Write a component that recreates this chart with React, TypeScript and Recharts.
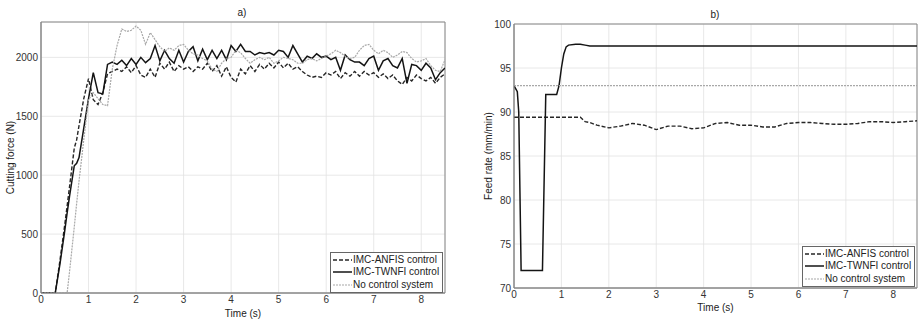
import React from 'react';
import { LineChart, Line, XAxis, YAxis, CartesianGrid, ReferenceArea, Legend } from 'recharts';

// ---------- Data: chart a) cutting force ----------
const forceTime = [
  0, 0.1, 0.2, 0.3, 0.4, 0.5, 0.55, 0.6, 0.7, 0.75, 0.8, 0.9,
  1.0, 1.1, 1.2, 1.3, 1.4, 1.5, 1.6, 1.7, 1.8, 1.9,
  2.0, 2.1, 2.2, 2.3, 2.4, 2.5, 2.6, 2.7, 2.8, 2.9,
  3.0, 3.1, 3.2, 3.3, 3.4, 3.5, 3.6, 3.7, 3.8, 3.9,
  4.0, 4.1, 4.2, 4.3, 4.4, 4.5, 4.6, 4.7, 4.8, 4.9,
  5.0, 5.1, 5.2, 5.3, 5.4, 5.5, 5.6, 5.7, 5.8, 5.9,
  6.0, 6.1, 6.2, 6.3, 6.4, 6.5, 6.6, 6.7, 6.8, 6.9,
  7.0, 7.1, 7.2, 7.3, 7.4, 7.5, 7.6, 7.7, 7.8, 7.9,
  8.0, 8.1, 8.2, 8.3, 8.4, 8.5,
];
const anfisForce = [
  0, 0, 0, 0, 280, 580, 740, 900, 1230, 1300, 1420, 1650,
  1820, 1640, 1600, 1700, 1860, 1880, 1900, 1880, 1920, 1870,
  1930, 1850, 1830, 1900, 1830, 1950, 1900, 1960, 1880, 1930,
  1900, 1920, 1880, 1920, 1900, 1950, 1880, 1930, 1840, 1920,
  1830, 1790, 1900, 1860, 1930, 1880, 1940, 1900, 1950, 1910,
  1960, 1910, 1950, 1900, 1920, 1880, 1850, 1830, 1840, 1830,
  1870, 1850, 1880, 1820, 1870, 1840, 1880, 1840, 1880, 1850,
  1870, 1830, 1860, 1820, 1850, 1800, 1770, 1830, 1800, 1850,
  1820, 1800, 1830, 1780, 1830, 1860,
];
const twnfiForce = [
  0, 0, 0, 0, 250, 530, 680, 820, 1080, 1100, 1150, 1400,
  1650, 1870, 1700, 1690, 1940, 1960, 1940, 1975, 1930, 1990,
  1940, 2000, 1955, 1990, 2100, 1970, 2060, 1990, 1950, 2060,
  1960, 2050, 2090, 1970, 2070, 1980, 2060, 1990, 2060, 1980,
  2100, 2050, 2110, 2050, 2050, 2020, 2040, 2030, 2040, 2020,
  2060, 2050, 2000, 2100, 2030, 1960, 2010, 1990, 2030, 2000,
  2010, 1980, 2000, 1890, 2020, 1980, 1960, 1960, 1930, 1990,
  2010, 1890, 1970, 1990, 1930, 1910, 1990, 1780, 1940, 1930,
  1890, 1950, 1910, 1810, 1870, 1910,
];
const noControlForce = [
  0, 0, 0, 0, 0, 0, 0, 180, 560, 760, 950, 1300,
  1640, 1700, 1650, 1600, 1590, 1900, 2100, 2240, 2220, 2230,
  2265, 2230, 2110, 2210, 2150, 2090, 2050, 2080, 2060, 2100,
  2110, 2060, 2030, 2020, 1990, 1970, 1900, 1880, 1950, 1990,
  2000, 2060, 2040, 1990, 1950, 1980, 2000, 1980, 2000, 1950,
  1970, 2000, 1990, 1980, 1950, 1950, 1980, 1990, 1970, 1990,
  2010, 2030, 2060, 2040, 2010, 1990, 2000, 2060, 2100, 2110,
  2060, 2030, 2060, 2040, 2000, 2020, 2050, 2040, 1990, 1960,
  1970, 1990, 1930, 1890, 1880, 1980,
];
const forceTicksX = [0, 1, 2, 3, 4, 5, 6, 7, 8];
const forceTicksY = [0, 500, 1000, 1500, 2000];

// ---------- Data: chart b) feed rate ----------
const feedTime = [
  0, 0.07, 0.1, 0.15, 0.6, 0.67, 0.9, 0.95, 1.0, 1.05, 1.1, 1.15,
  1.3, 1.4, 1.5, 1.6, 1.75, 2.0, 2.25, 2.5, 2.75, 3.0, 3.25, 3.5,
  3.75, 4.0, 4.25, 4.5, 4.75, 5.0, 5.25, 5.5, 5.75, 6.0, 6.25, 6.5,
  6.75, 7.0, 7.25, 7.5, 7.75, 8.0, 8.25, 8.5,
];
const anfisFeed = [
  89.4, 89.4, 89.4, 89.4, 89.4, 89.4, 89.4, 89.4, 89.4, 89.4, 89.4, 89.4,
  89.4, 89.4, 88.9, 88.8, 88.5, 88.2, 88.4, 88.7, 88.5, 88.0, 88.4, 88.4,
  88.1, 88.2, 88.7, 88.8, 88.5, 88.5, 88.3, 88.3, 88.7, 88.8, 88.8, 88.7,
  88.6, 88.6, 88.7, 88.9, 88.9, 88.8, 88.9, 89.0,
];
const twnfiFeed = [
  93, 92.3, 90, 72, 72, 92, 92, 93, 95, 96.6, 97.4, 97.6,
  97.7, 97.7, 97.6, 97.5, 97.5, 97.5, 97.5, 97.5, 97.5, 97.5, 97.5, 97.5,
  97.5, 97.5, 97.5, 97.5, 97.5, 97.5, 97.5, 97.5, 97.5, 97.5, 97.5, 97.5,
  97.5, 97.5, 97.5, 97.5, 97.5, 97.5, 97.5, 97.5,
];
const noControlFeed = [
  93, 93, 93, 93, 93, 93, 93, 93, 93, 93, 93, 93,
  93, 93, 93, 93, 93, 93, 93, 93, 93, 93, 93, 93,
  93, 93, 93, 93, 93, 93, 93, 93, 93, 93, 93, 93,
  93, 93, 93, 93, 93, 93, 93, 93,
];
const feedTicksX = [0, 1, 2, 3, 4, 5, 6, 7, 8];
const feedTicksY = [70, 75, 80, 85, 90, 95, 100];

const seriesNames = ['IMC-ANFIS control', 'IMC-TWNFI control', 'No control system'];

const forceData = forceTime.map((t, i) => ({
  t,
  anfis: anfisForce[i],
  twnfi: twnfiForce[i],
  none: noControlForce[i],
}));
const feedData = feedTime.map((t, i) => ({
  t,
  anfis: anfisFeed[i],
  twnfi: twnfiFeed[i],
  none: noControlFeed[i],
}));

// ---------- Styles ----------
const FONT = '"Liberation Sans", Arial, sans-serif';
const styles = [
  { key: 'anfis', stroke: '#262626', width: 1.4, dash: '4 2' },
  { key: 'twnfi', stroke: '#141414', width: 1.5, dash: undefined as string | undefined },
  { key: 'none', stroke: '#a8a8a8', width: 1.2, dash: '2 1' },
];
const tickStyle = { fontSize: 10, fill: '#333', fontFamily: FONT };

const LegendContent = () => (
  <div
    style={{
      width: 111,
      border: '1px solid #666',
      background: '#fff',
      fontFamily: FONT,
      fontSize: 10,
      color: '#222',
      padding: '1px 0',
      lineHeight: '12.3px',
    }}
  >
    {seriesNames.map((name, i) => (
      <div key={name} style={{ display: 'flex', alignItems: 'center', whiteSpace: 'nowrap' }}>
        <svg width={22} height={10} style={{ flex: 'none', marginRight: 0 }}>
          <line
            x1={2}
            y1={5}
            x2={21}
            y2={5}
            stroke={styles[i].stroke}
            strokeWidth={styles[i].width}
            strokeDasharray={styles[i].dash}
          />
        </svg>
        <span>{name}</span>
      </div>
    ))}
  </div>
);

function renderLines() {
  return styles.map((s, i) => (
    <Line
      key={s.key}
      type="linear"
      dataKey={s.key}
      name={seriesNames[i]}
      stroke={s.stroke}
      strokeWidth={s.width}
      strokeDasharray={s.dash}
      dot={false}
      activeDot={false}
      isAnimationActive={false}
    />
  ));
}

const titleStyle: React.CSSProperties = {
  position: 'absolute',
  fontFamily: FONT,
  fontSize: 10,
  color: '#222',
  transform: 'translate(-50%, -50%)',
  whiteSpace: 'nowrap',
};

export default function App() {
  return (
    <div
      style={{
        position: 'absolute',
        left: 0,
        top: 0,
        width: 918,
        height: 320,
        background: '#fff',
        overflow: 'hidden',
      }}
    >
      {/* Chart a) */}
      <div style={{ position: 'absolute', left: 0, top: 0 }}>
        <LineChart
          width={460}
          height={320}
          data={forceData}
          margin={{ top: 22, right: 15, bottom: 0, left: 0 }}
        >
          <CartesianGrid stroke="#e2e2e2" strokeWidth={0.8} />
          <XAxis
            dataKey="t"
            type="number"
            domain={[0, 8.5]}
            ticks={forceTicksX}
            allowDataOverflow
            height={27}
            tickSize={0}
            tickMargin={3}
            tick={tickStyle}
            axisLine={{ stroke: '#888' }}
            label={{ value: 'Time (s)', position: 'insideBottom', offset: 3, style: { fontSize: 10, fill: '#222', fontFamily: FONT } }}
          />
          <YAxis
            type="number"
            domain={[0, 2300]}
            ticks={forceTicksY}
            allowDataOverflow
            width={41}
            tickSize={0}
            tickMargin={3}
            tick={tickStyle}
            axisLine={{ stroke: '#888' }}
            label={{ value: 'Cutting force (N)', angle: -90, position: 'insideLeft', offset: 10, style: { textAnchor: 'middle', fontSize: 10, fill: '#222', fontFamily: FONT } }}
          />
          <ReferenceArea x1={0} x2={8.5} y1={0} y2={2300} fill="none" stroke="#888" strokeWidth={1} ifOverflow="visible" />
          {renderLines()}
          <Legend
            layout="vertical"
            align="center"
            verticalAlign="middle"
            wrapperStyle={{ left: 330, top: 252, width: 113 }}
            content={<LegendContent />}
          />
        </LineChart>
        <div style={{ ...titleStyle, left: 242, top: 12 }}>a)</div>
      </div>

      {/* Chart b) */}
      <div style={{ position: 'absolute', left: 458, top: 0 }}>
        <LineChart
          width={460}
          height={320}
          data={feedData}
          margin={{ top: 24, right: 1, bottom: 0, left: 0 }}
        >
          <CartesianGrid stroke="#e2e2e2" strokeWidth={0.8} />
          <XAxis
            dataKey="t"
            type="number"
            domain={[0, 8.5]}
            ticks={feedTicksX}
            allowDataOverflow
            height={32}
            tickSize={0}
            tickMargin={3}
            tick={tickStyle}
            axisLine={{ stroke: '#888' }}
            label={{ value: 'Time (s)', position: 'insideBottom', offset: 9, style: { fontSize: 10, fill: '#222', fontFamily: FONT } }}
          />
          <YAxis
            type="number"
            domain={[70, 100]}
            ticks={feedTicksY}
            allowDataOverflow
            width={56}
            tickSize={0}
            tickMargin={3}
            tick={tickStyle}
            axisLine={{ stroke: '#888' }}
            label={{ value: 'Feed rate (mm/min)', angle: -90, position: 'insideLeft', offset: 30, style: { textAnchor: 'middle', fontSize: 10, fill: '#222', fontFamily: FONT } }}
          />
          <ReferenceArea x1={0} x2={8.5} y1={70} y2={100} fill="none" stroke="#888" strokeWidth={1} ifOverflow="visible" />
          {renderLines()}
          <Legend
            layout="vertical"
            align="center"
            verticalAlign="middle"
            wrapperStyle={{ left: 344, top: 246, width: 113 }}
            content={<LegendContent />}
          />
        </LineChart>
        <div style={{ ...titleStyle, left: 257, top: 14 }}>b)</div>
      </div>
    </div>
  );
}
